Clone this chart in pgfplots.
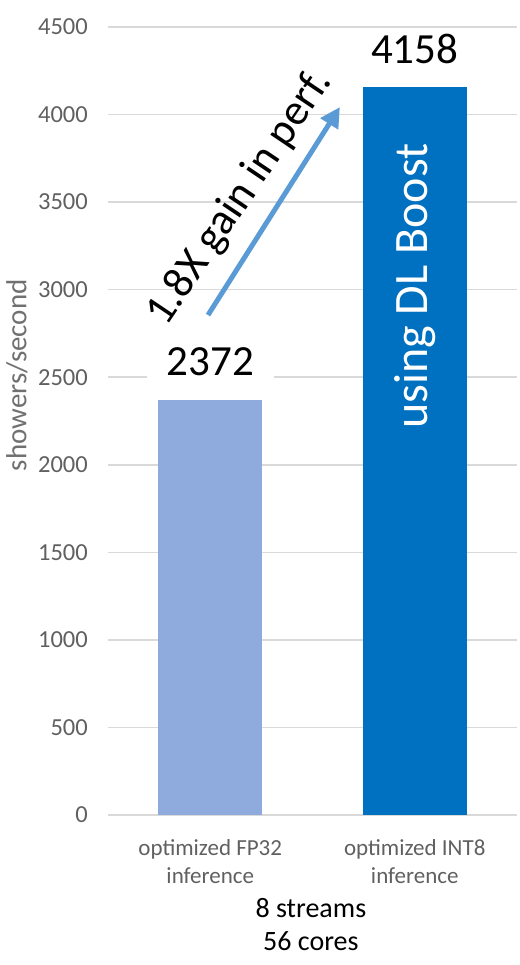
\documentclass[border=0pt]{standalone}
\usepackage{fontspec}
\setmainfont{Carlito}
\usepackage{pgfplots}
\pgfplotsset{compat=1.18}
\usetikzlibrary{arrows.meta}
\definecolor{fpblue}{HTML}{8FAADC}
\definecolor{intblue}{HTML}{0070C0}
\definecolor{arrowblue}{HTML}{5B9BD5}
\definecolor{gridgray}{HTML}{D9D9D9}
\definecolor{ticktext}{HTML}{606060}
\definecolor{labeltext}{HTML}{707070}
\begin{document}
\begin{tikzpicture}[x=1pt,y=1pt]
\useasboundingbox (0,0) rectangle (519,965);
\begin{axis}[
  at={(108pt,150pt)}, anchor=south west,
  scale only axis, width=409pt, height=788pt,
  xmin=-0.5, xmax=1.5, ymin=0, ymax=4500,
  axis line style={draw=none},
  tick style={draw=none},
  ymajorgrids, grid style={gridgray, line width=1.5pt},
  ytick={0,500,...,4500},
  xtick={0,1},
  xticklabels={optimized FP32\\inference, optimized INT8\\inference},
  xticklabel style={align=center, font=\fontsize{23}{28}\selectfont, text=ticktext, anchor=north, inner sep=0pt, yshift=-20pt},
  yticklabel style={font=\fontsize{24.5}{28}\selectfont, text=ticktext, anchor=east, inner sep=0pt, xshift=-20pt},
  /pgf/number format/assume math mode=true,
  /pgf/number format/1000 sep={},
  ylabel={showers/second},
  ylabel style={at={(axis description cs:-0.2225,0.558)}, anchor=center, font=\fontsize{29}{34}\selectfont, text=labeltext},
  xlabel={8 streams\\56 cores},
  xlabel style={at={(axis description cs:0.496,-0.1394)}, anchor=center, align=center, font=\fontsize{28}{33}\selectfont},
  ybar, bar width=104pt,
  nodes near coords,
  every node near coord/.append style={font=\fontsize{43}{47}\selectfont, text=black, fill=white, inner xsep=20pt, inner ysep=2pt, anchor=center, yshift=38pt},
]
\addplot[fill=fpblue, draw=none, bar shift=0pt] coordinates {(0,2372)};
\addplot[fill=intblue, draw=none, bar shift=0pt] coordinates {(1,4158)};
\draw[arrowblue, line width=5pt, -{Triangle[length=20pt,width=20pt]}] (axis cs:-0.011,2855) -- (axis cs:0.634,4043);
\node[rotate=56, font=\fontsize{44}{48}\selectfont, text=black] at (axis cs:0.1455,3523) {1.8X gain in perf.};
\node[rotate=90, font=\fontsize{48}{52}\selectfont, text=white] at (axis cs:1.0,3021) {using DL Boost};
\end{axis}
\end{tikzpicture}
\end{document}
